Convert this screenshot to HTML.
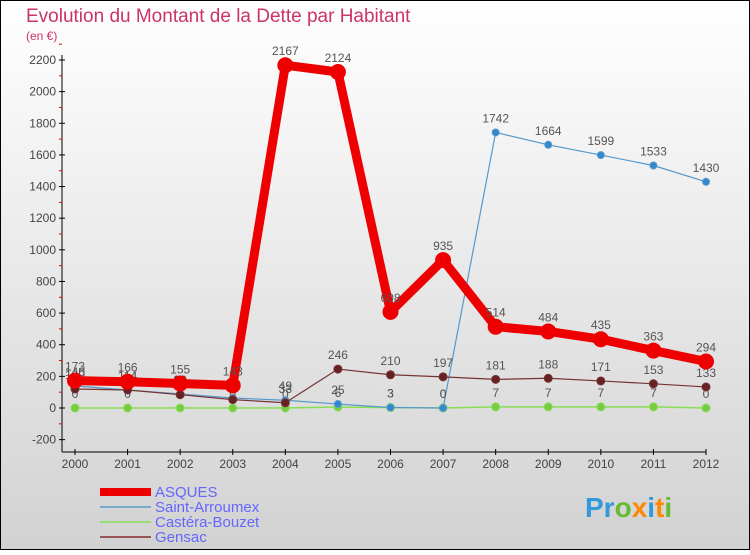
<!DOCTYPE html>
<html><head><meta charset="utf-8"><style>
body{margin:0;width:750px;height:550px;overflow:hidden;font-family:"Liberation Sans",sans-serif}
</style></head><body>
<svg width="750" height="550" xmlns="http://www.w3.org/2000/svg">
<defs><linearGradient id="bg" x1="0" y1="0" x2="0" y2="1"><stop offset="0" stop-color="#ffffff"/><stop offset="1" stop-color="#d2d2d2"/></linearGradient></defs>
<rect x="0.5" y="0.5" width="749" height="549" fill="url(#bg)" stroke="#000"/>
<text x="26" y="22" font-size="19" fill="#cc3366">Evolution du Montant de la Dette par Habitant</text>
<text x="26" y="40" font-size="12" fill="#cc3366">(en €)</text>
<g id="axes"></g>
<g id="series"></g>
<g id="legend"></g>
<text x="585" y="517" font-size="28" font-weight="bold"><tspan fill="#3399dd">Pr</tspan><tspan fill="#66bb33">o</tspan><tspan fill="#ff8800">x</tspan><tspan fill="#3399dd">i</tspan><tspan fill="#ff8800">t</tspan><tspan fill="#66bb33">i</tspan></text>
</svg>
<script>
const years=[2000,2001,2002,2003,2004,2005,2006,2007,2008,2009,2010,2011,2012];
const asques=[173,166,155,143,2167,2124,608,935,514,484,435,363,294];
const saint=[140,114,89,63,49,25,3,0,1742,1664,1599,1533,1430];
const castera=[0,0,0,0,0,6,3,0,7,7,7,7,0];
const gensac=[120,114,84,53,33,246,210,197,181,188,171,153,133];
const yTicks=[-200,0,200,400,600,800,1000,1200,1400,1600,1800,2000,2200];
const NS="http://www.w3.org/2000/svg";
function X(i){return 75+i*(706-75)/(years.length-1);}
function Y(v){return 408-v*(348/2200);}
function mk(t,a,p){const e=document.createElementNS(NS,t);for(const k in a)e.setAttribute(k,a[k]);p.appendChild(e);return e;}
const ax=document.getElementById('axes');
const yl=mk('line',{x1:62,y1:55,x2:62,y2:452,stroke:'#000'},ax);


const xl=mk('line',{x1:62,y1:452,x2:706,y2:452,stroke:'#000'},ax);


yTicks.forEach(v=>{const y=Y(v);
mk('line',{x1:59,y1:y,x2:65,y2:y,stroke:'#000'},ax);
mk('line',{x1:59,y1:Y(v+100),x2:62,y2:Y(v+100),stroke:'#e00'},ax);
const t=mk('text',{x:56,y:y+4,'font-size':12,fill:'#444','text-anchor':'end'},ax);t.textContent=v;

});
years.forEach((yr,i)=>{mk('line',{x1:X(i),y1:449,x2:X(i),y2:455,stroke:'#000'},ax);
const t=mk('text',{x:X(i),y:468,'font-size':12,fill:'#444','text-anchor':'middle'},ax);t.textContent=yr;

});
const sg=document.getElementById('series');
function series(data,color,w,r,name,dot){
const g=mk('g',{},sg);


mk('polyline',{points:data.map((v,i)=>X(i)+','+Y(v)).join(' '),fill:'none',stroke:color,'stroke-width':w,'stroke-linejoin':'round'},g);
data.forEach((v,i)=>{const c=mk('circle',{cx:X(i),cy:Y(v),r:r,fill:dot,stroke:color},g);


const t=mk('text',{x:X(i),y:Y(v)-10,'font-size':12,fill:'#555','text-anchor':'middle'},g);t.textContent=v;

});}
series(castera,'#88dd55',1.5,4,'castera-bouzet-series','#77cc44');
series(saint,'#5599cc',1.2,3.5,'saint-arroumex-series','#3388cc');
series(gensac,'#773333',1.2,4,'gensac-series','#662222');
series(asques,'#ee0000',9,7.5,'asques-series','#ee0000');
const lg=document.getElementById('legend');
[['ASQUES','#ee0000',8],['Saint-Arroumex','#77aacc',2],['Castéra-Bouzet','#99dd77',2],['Gensac','#995555',2]].forEach((d,i)=>{
const y=492+i*15;
const l=mk('line',{x1:100,y1:y,x2:151,y2:y,stroke:d[1],'stroke-width':d[2]},lg);


const t=mk('text',{x:155,y:y+5,'font-size':15,fill:'#6666ff'},lg);t.textContent=d[0];

});
</script>
</body></html>
